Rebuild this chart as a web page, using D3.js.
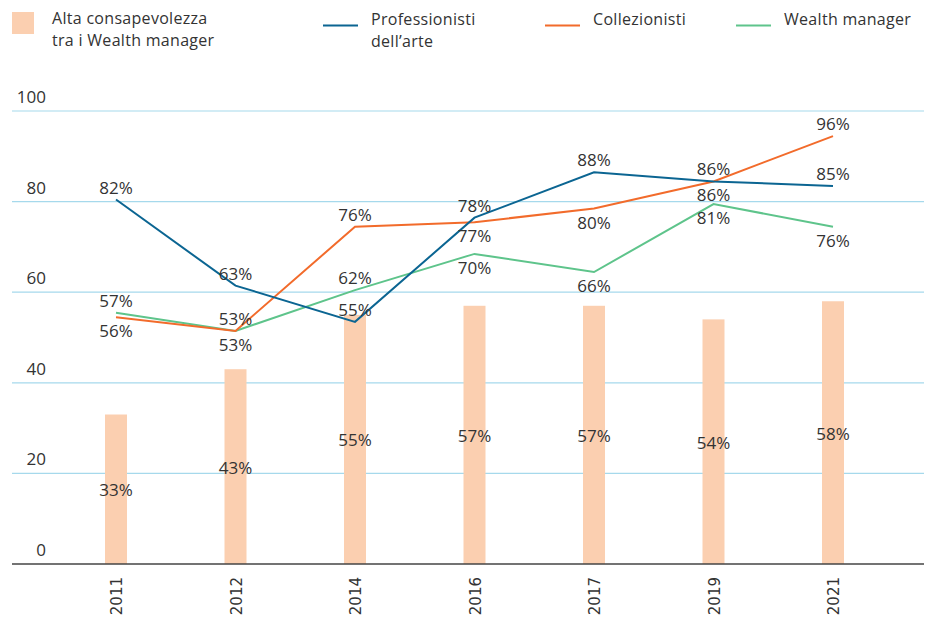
<!DOCTYPE html>
<html>
<head>
<meta charset="utf-8">
<script src="https://cdn.jsdelivr.net/npm/d3@7"></script>
<style>
  body { margin: 0; background: #fff; }
  svg { display: block; font-family: "Open Sans", "Noto Sans", sans-serif; }
  .lbl { font-size: 17px; fill: #333; }
  .leg { font-size: 16px; fill: #333; letter-spacing: 0.3px; }
  .year { font-family: "DejaVu Sans", sans-serif; font-size: 15px; fill: #333; }
</style>
</head>
<body>
<svg id="chart" width="935" height="617"></svg>
<script>
// ── Data ──────────────────────────────────────────────────────────────────────
const years = ["2011", "2012", "2014", "2016", "2017", "2019", "2021"];
const consapevolezza = [33, 43, 55, 57, 57, 54, 58];
const professionisti = [82, 63, 55, 78, 88, 86, 85];
const collezionisti  = [56, 53, 76, 77, 80, 86, 96];
const wealthManager  = [57, 53, 62, 70, 66, 81, 76];
const yTicks = [0, 20, 40, 60, 80, 100];

// label placement per point: "a" above the line, "b" below
const profSide = ["a", "a", "a", "a", "a", "a", "a"];
const collSide = ["b", "b", "a", "b", "b", "b", "a"];
const wmSide   = ["a", "a", "a", "b", "b", "b", "b"];

const COLORS = { bar: "#fbcfb0", prof: "#0b6592", coll: "#f26b2b", wm: "#5ec48b",
                 grid: "#a6d9ec", base: "#444" };

// ── Scales ────────────────────────────────────────────────────────────────────
const svg = d3.select("#chart");
const x = d3.scalePoint().domain(years).range([116, 833]);
const y = d3.scaleLinear().domain([0, 100]).range([564, 111]);
const LINE_SHIFT = 7;   // lines sit slightly under their labelled value in the source
const BAR_W = 22;

// ── Grid + y labels ───────────────────────────────────────────────────────────
svg.append("g").selectAll("line").data(yTicks.filter(t => t > 0)).join("line")
  .attr("x1", 12).attr("x2", 924)
  .attr("y1", d => y(d)).attr("y2", d => y(d))
  .attr("stroke", COLORS.grid).attr("stroke-width", 1.2);

svg.append("g").selectAll("text").data(yTicks).join("text")
  .attr("class", "lbl")
  .attr("x", 46).attr("y", d => y(d) - 8)
  .attr("text-anchor", "end")
  .text(d => d);

// ── Bars ──────────────────────────────────────────────────────────────────────
svg.append("g").selectAll("rect").data(consapevolezza).join("rect")
  .attr("x", (d, i) => x(years[i]) - BAR_W / 2)
  .attr("y", d => y(d))
  .attr("width", BAR_W)
  .attr("height", d => y(0) - y(d))
  .attr("fill", COLORS.bar);

svg.append("g").selectAll("text").data(consapevolezza).join("text")
  .attr("class", "lbl")
  .attr("x", (d, i) => x(years[i]))
  .attr("y", d => y(d / 2) + 7)
  .attr("text-anchor", "middle")
  .text(d => d + "%");

// baseline
svg.append("line")
  .attr("x1", 12).attr("x2", 924).attr("y1", y(0)).attr("y2", y(0))
  .attr("stroke", COLORS.base).attr("stroke-width", 1.5);

// year labels
svg.append("g").selectAll("text").data(years).join("text")
  .attr("class", "year")
  .attr("transform", d => `translate(${x(d) + 6},577) rotate(-90)`)
  .attr("text-anchor", "end")
  .text(d => d);

// ── Lines ─────────────────────────────────────────────────────────────────────
const line = d3.line()
  .x((d, i) => x(years[i]))
  .y(d => y(d) + LINE_SHIFT);

function drawSeries(values, color) {
  svg.append("path").datum(values)
    .attr("d", line)
    .attr("fill", "none")
    .attr("stroke", color)
    .attr("stroke-width", 2);
}

function drawLabels(values, sides) {
  svg.append("g").selectAll("text").data(values).join("text")
    .attr("class", "lbl")
    .attr("x", (d, i) => x(years[i]))
    .attr("y", (d, i) => y(d) + LINE_SHIFT + (sides[i] === "a" ? -6 : 20))
    .attr("text-anchor", "middle")
    .text(d => d + "%");
}

drawSeries(wealthManager, COLORS.wm);
drawSeries(collezionisti, COLORS.coll);
drawSeries(professionisti, COLORS.prof);
drawLabels(wealthManager, wmSide);
drawLabels(collezionisti, collSide);
drawLabels(professionisti, profSide);

// ── Legend ────────────────────────────────────────────────────────────────────
const legend = svg.append("g");

// multi-line legend text as one <text> with tspans
function legendText(x0, y0, lines) {
  const t = legend.append("text").attr("class", "leg").attr("x", x0).attr("y", y0);
  lines.forEach((s, j) => {
    t.append("tspan").attr("x", x0).attr("dy", j === 0 ? 0 : 22).text(s);
  });
}

legend.append("rect").attr("x", 12).attr("y", 12).attr("width", 22).attr("height", 22)
  .attr("fill", COLORS.bar);
legendText(52, 24, ["Alta consapevolezza", "tra i Wealth manager"]);

const lineItems = [
  { x: 323, color: COLORS.prof, lines: ["Professionisti", "dell’arte"] },
  { x: 545, color: COLORS.coll, lines: ["Collezionisti"] },
  { x: 736, color: COLORS.wm,   lines: ["Wealth manager"] },
];
lineItems.forEach(it => {
  legend.append("line").attr("x1", it.x).attr("x2", it.x + 35)
    .attr("y1", 25.5).attr("y2", 25.5)
    .attr("stroke", it.color).attr("stroke-width", 2);
  legendText(it.x + 48, 25, it.lines);
});
</script>
</body>
</html>
